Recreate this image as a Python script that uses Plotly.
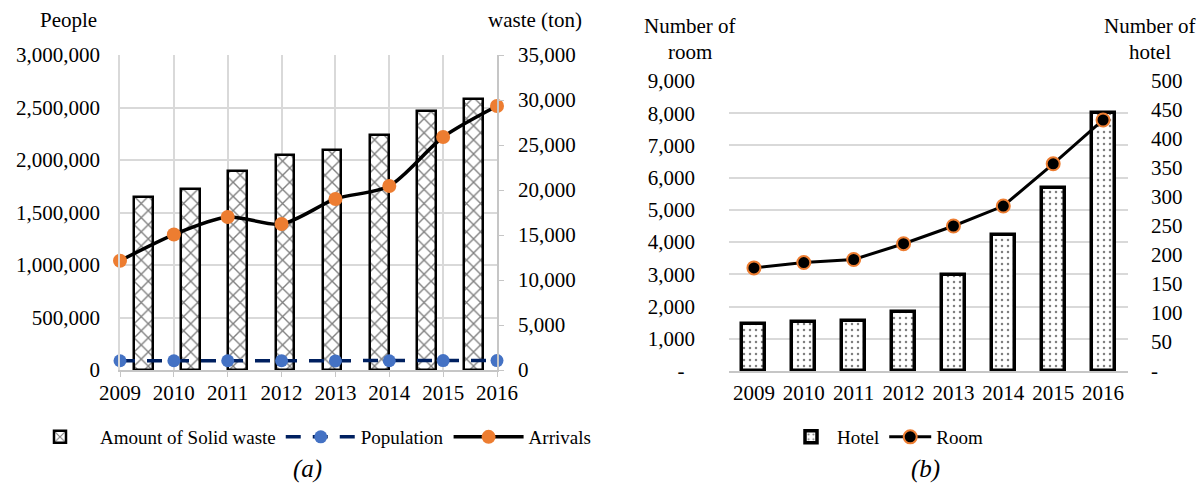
import plotly.graph_objects as go

W, H = 1203, 490

# ---- data -------------------------------------------------------------
years = ["2009", "2010", "2011", "2012", "2013", "2014", "2015", "2016"]

# (a) solid waste, population and tourist arrivals
solid_waste_ton = [19200, 20100, 22100, 23900, 24500, 26100, 28800, 30100]
population = [88000, 88000, 88000, 88000, 86000, 88000, 90000, 90000]
arrivals = [1040000, 1290000, 1457000, 1390000, 1629000, 1752000, 2219000, 2514000]

# (b) hotels and rooms
hotels = [81, 85, 87, 101, 165, 235, 316, 445]
rooms = [3200, 3365, 3460, 3950, 4500, 5120, 6430, 7790]

people_ticks = [0, 500000, 1000000, 1500000, 2000000, 2500000, 3000000]
waste_ticks = [0, 5000, 10000, 15000, 20000, 25000, 30000, 35000]
room_ticks = [0, 1000, 2000, 3000, 4000, 5000, 6000, 7000, 8000, 9000]
hotel_ticks = [0, 50, 100, 150, 200, 250, 300, 350, 400, 450, 500]

FONT = "'Times New Roman', 'Liberation Serif', Tinos, 'DejaVu Serif', serif"
GRID = "#d9d9d9"
AXLINE = "#c6c6c6"


def px_x(x):
    return x / W


def px_y(y):
    return 1 - y / H


def fmt(v):
    return f"{v:,}"


fig = go.Figure()

# ---- (a) --------------------------------------------------------------
fig.add_trace(go.Bar(
    x=years, y=solid_waste_ton, name="Amount of Solid waste",
    xaxis="x", yaxis="y", width=0.40,
    marker=dict(color="white", line=dict(color="black", width=2.5),
                pattern=dict(shape="x", fgcolor="black", bgcolor="white",
                             size=10, solidity=0.25)),
    legend="legend", legendrank=1,
))
fig.add_trace(go.Scatter(
    x=years, y=population, name="Population", mode="lines+markers",
    xaxis="x2", yaxis="y2", cliponaxis=False,
    line=dict(color="#002060", width=3.5, dash="15px,12px"),
    marker=dict(color="#4472C4", size=13),
    legend="legend", legendrank=2,
))
fig.add_trace(go.Scatter(
    x=years, y=arrivals, name="Arrivals", mode="lines+markers",
    xaxis="x2", yaxis="y2", cliponaxis=False,
    line=dict(color="black", width=3.5, shape="spline", smoothing=0.8),
    marker=dict(color="#ED7D31", size=14),
    legend="legend", legendrank=3,
))

# ---- (b) --------------------------------------------------------------
fig.add_trace(go.Bar(
    x=years, y=hotels, name="Hotel",
    xaxis="x3", yaxis="y3", width=0.46,
    marker=dict(color="white", line=dict(color="black", width=3.5),
                pattern=dict(shape=".", fgcolor="black", bgcolor="white",
                             size=6, solidity=0.14)),
    legend="legend2",
))
fig.add_trace(go.Scatter(
    x=years, y=rooms, name="Room", mode="lines+markers",
    xaxis="x3", yaxis="y4", cliponaxis=False,
    line=dict(color="black", width=3),
    marker=dict(color="black", size=13, line=dict(color="#ED7D31", width=2)),
    legend="legend2",
))

tickfont = dict(family=FONT, size=21, color="black")

dom_a_x = [px_x(120), px_x(497)]
dom_a_y = [px_y(370), px_y(55)]
dom_b_x = [px_x(729), px_x(1128)]
dom_b_y = [px_y(371), px_y(81)]

fig.update_layout(
    width=W, height=H,
    margin=dict(l=0, r=0, t=0, b=0, autoexpand=False),
    paper_bgcolor="white", plot_bgcolor="white",
    font=dict(family=FONT, color="black"),
    showlegend=True,
    bargap=0,
    # (a) bar category axis (hidden) + waste axis on the right
    xaxis=dict(domain=dom_a_x, anchor="y", type="category",
               range=[-0.5, 7.5], visible=False, fixedrange=True),
    yaxis=dict(domain=dom_a_y, anchor="x", side="right",
               range=[0, 35000], tickvals=waste_ticks,
               ticktext=[fmt(v) for v in waste_ticks],
               showgrid=False, zeroline=False,
               showline=True, linecolor=AXLINE, linewidth=1.5,
               ticks="outside", ticklen=5, tickcolor=AXLINE,
               ticklabelstandoff=10, tickfont=tickfont),
    # (a) year axis (on tick marks) + people axis on the left
    xaxis2=dict(domain=dom_a_x, anchor="y2", overlaying="x", type="category",
                range=[0, 7], showgrid=True, gridcolor=GRID, gridwidth=1.5,
                showline=True, linecolor=AXLINE, linewidth=1.5,
                ticks="outside", ticklen=5, tickcolor=AXLINE,
                tickfont=tickfont, ticklabelstandoff=-2),
    yaxis2=dict(domain=dom_a_y, anchor="x2", overlaying="y", side="left",
                range=[0, 3000000], tickvals=people_ticks,
                ticktext=[fmt(v) for v in people_ticks],
                showgrid=True, gridcolor=GRID, gridwidth=1.5, zeroline=False,
                showline=True, linecolor=GRID, linewidth=1.5,
                ticks="", ticklabelstandoff=14, tickfont=tickfont),
    # (b) category axis + hotel axis on the right
    xaxis3=dict(domain=dom_b_x, anchor="y3", type="category",
                range=[-0.5, 7.5], showgrid=False,
                showline=True, linecolor=AXLINE, linewidth=1.5,
                ticks="", tickfont=tickfont, ticklabelstandoff=2),
    yaxis3=dict(domain=dom_b_y, anchor="x3", side="right",
                range=[0, 500], tickvals=hotel_ticks,
                ticktext=["-"] + [fmt(v) for v in hotel_ticks[1:]],
                showgrid=False, zeroline=False, showline=False,
                ticks="", ticklabelstandoff=22, tickfont=tickfont),
    yaxis4=dict(domain=dom_b_y, anchor="x3", overlaying="y3", side="left",
                range=[0, 9000], tickvals=room_ticks,
                ticktext=["-\u00a0\u00a0"] + [fmt(v) for v in room_ticks[1:]],
                showgrid=True, gridcolor=GRID, gridwidth=1.5, zeroline=False,
                showline=False, ticks="", ticklabelstandoff=33,
                tickfont=tickfont),
    legend=dict(orientation="h", x=px_x(20), xanchor="left",
                y=px_y(437), yanchor="middle", itemwidth=70,
                font=dict(family=FONT, size=19, color="black"),
                bgcolor="rgba(0,0,0,0)", traceorder="normal"),
    legend2=dict(orientation="h", x=px_x(785), xanchor="left",
                 y=px_y(437), yanchor="middle", itemwidth=42,
                 font=dict(family=FONT, size=19, color="black"),
                 bgcolor="rgba(0,0,0,0)"),
)

annotations = [
    dict(text="People", x=px_x(68), y=px_y(20)),
    dict(text="waste (ton)", x=px_x(535), y=px_y(20)),
    dict(text="Number of", x=px_x(690), y=px_y(26)),
    dict(text="room", x=px_x(690), y=px_y(52)),
    dict(text="Number of", x=px_x(1150), y=px_y(26)),
    dict(text="hotel", x=px_x(1150), y=px_y(52)),
]
for a in annotations:
    fig.add_annotation(xref="paper", yref="paper", showarrow=False,
                       xanchor="center", yanchor="middle",
                       font=dict(family=FONT, size=21, color="black"), **a)

for label, cx in (("(a)", 307), ("(b)", 925)):
    fig.add_annotation(text=f"<i>{label}</i>", xref="paper", yref="paper",
                       x=px_x(cx), y=px_y(469), showarrow=False,
                       xanchor="center", yanchor="middle",
                       font=dict(family=FONT, size=25, color="black"))

fig.write_html("out.html")
